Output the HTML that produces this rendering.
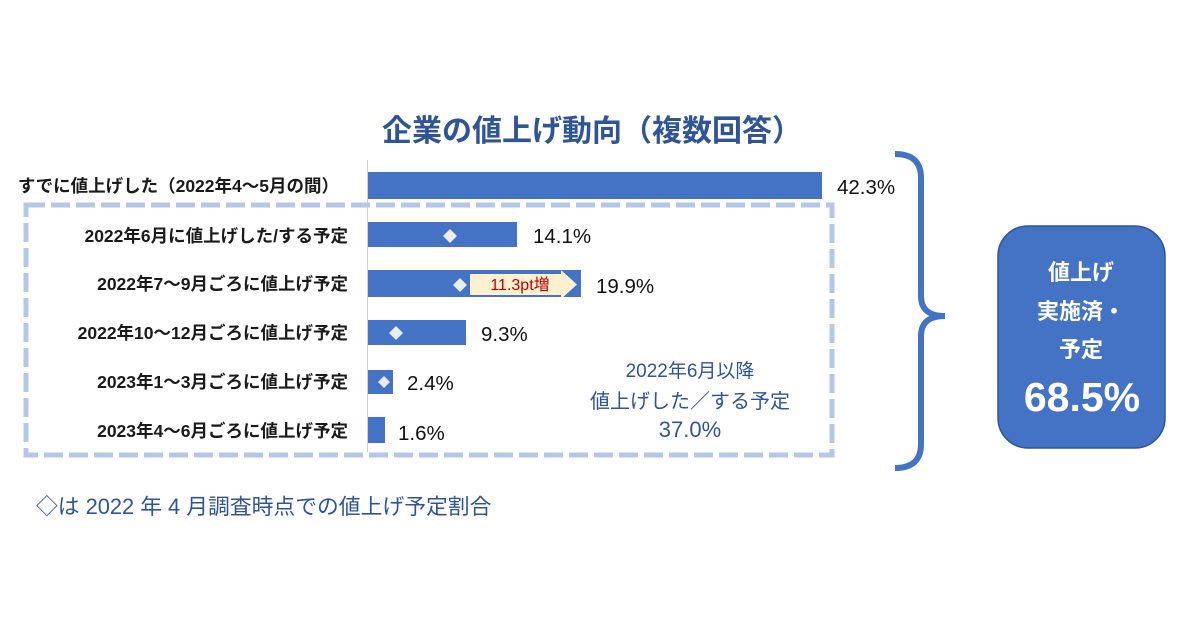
<!DOCTYPE html>
<html><head><meta charset="utf-8"><style>
html,body{margin:0;padding:0;background:#fff;}
svg{display:block;}
text{font-family:"Liberation Sans","Noto Sans CJK JP",sans-serif;}
</style></head><body>
<svg width="1200" height="630" viewBox="0 0 1200 630" xmlns="http://www.w3.org/2000/svg">
<rect width="1200" height="630" fill="#fff"/>
<text x="592" y="141" text-anchor="middle" font-size="30" font-weight="bold" fill="#2f5597">企業の値上げ動向（複数回答）</text>
<line x1="367.5" y1="160" x2="367.5" y2="452" stroke="#d0d0d0" stroke-width="1"/>
<rect x="26" y="205" width="806" height="250" fill="none" stroke="#b4c7e7" stroke-width="5" stroke-dasharray="19,6"/>
<g fill="#4472c4">
<rect x="368" y="172" width="454" height="27"/>
<rect x="368" y="222" width="149" height="25"/>
<rect x="368" y="270" width="213" height="27"/>
<rect x="368" y="320" width="98" height="25"/>
<rect x="368" y="370" width="25" height="24"/>
<rect x="368" y="417" width="17" height="26"/>
</g>
<g fill="#e8eef8">
<path d="M450 229l7 7-7 7-7-7z"/>
<path d="M460 278l7 7-7 7-7-7z"/>
<path d="M396 326l7 7-7 7-7-7z"/>
<path d="M384 376l6 6-6 6-6-6z"/>
</g>
<path d="M470 274h91v-4l16 14.5-16 14.5v-4h-91z" fill="#fdf1cf"/>
<text x="520" y="290" text-anchor="middle" font-size="16" fill="#c00000">11.3pt増</text>
<g font-size="20.5" fill="#111">
<text x="837" y="194">42.3%</text>
<text x="533" y="243">14.1%</text>
<text x="596" y="293">19.9%</text>
<text x="481" y="341">9.3%</text>
<text x="407" y="390">2.4%</text>
<text x="398" y="440">1.6%</text>
</g>
<g font-size="17.5" font-weight="bold" fill="#1a1a1a" text-anchor="end">
<text x="339" y="192">すでに値上げした（2022年4～5月の間）</text>
<text x="348" y="242">2022年6月に値上げした/する予定</text>
<text x="348" y="290">2022年7～9月ごろに値上げ予定</text>
<text x="348" y="339">2022年10～12月ごろに値上げ予定</text>
<text x="348" y="388">2023年1～3月ごろに値上げ予定</text>
<text x="348" y="437">2023年4～6月ごろに値上げ予定</text>
</g>
<g fill="#2f5597" text-anchor="middle">
<text x="690" y="377" font-size="19">2022年6月以降</text>
<text x="690" y="408" font-size="20">値上げした／する予定</text>
<text x="690" y="437" font-size="22">37.0%</text>
</g>
<path d="M895 154 Q921 154 921 178 V296 Q921 316 945 316 Q921 316 921 336 V444 Q921 468 895 468" fill="none" stroke="#4472c4" stroke-width="6"/>
<rect x="998" y="226" width="167" height="222" rx="30" fill="#4472c4" stroke="#2f5597" stroke-width="1.5"/>
<g fill="#fff" font-weight="bold" text-anchor="middle">
<text x="1081" y="280" font-size="22">値上げ</text>
<text x="1081" y="319" font-size="22">実施済・</text>
<text x="1081" y="357" font-size="22">予定</text>
<text x="1082" y="411" font-size="41">68.5%</text>
</g>
<text x="36" y="514" font-size="21.8" fill="#2f5597">◇は 2022 年 4 月調査時点での値上げ予定割合</text>
</svg>
</body></html>
